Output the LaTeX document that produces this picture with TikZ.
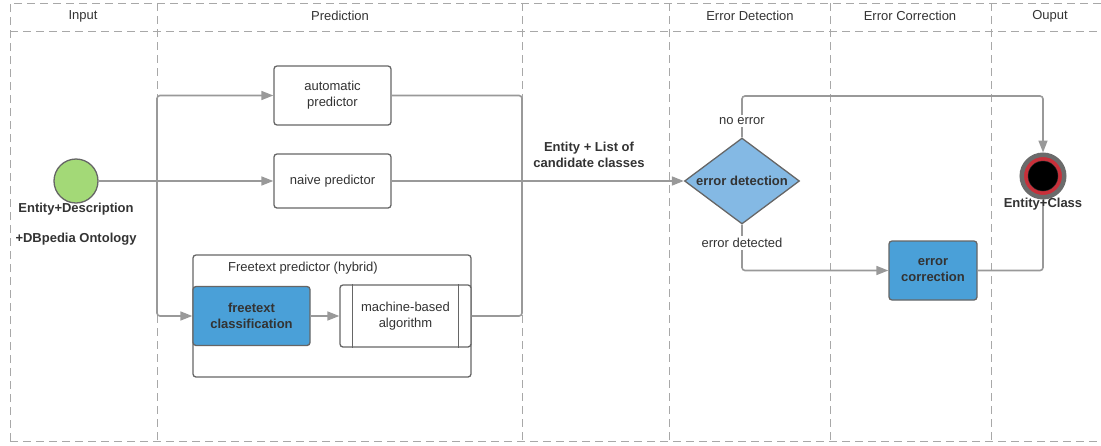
\documentclass[tikz,border=0pt]{standalone}
\usepackage{fontspec}
\setmainfont{Liberation Sans}
\usetikzlibrary{positioning}
\usetikzlibrary{shapes.geometric}
\usetikzlibrary{arrows.meta}

\definecolor{textgray}{HTML}{333333}
\definecolor{lanegray}{HTML}{A8A8A8}
\definecolor{flowgray}{HTML}{999999}
\definecolor{boxgray}{HTML}{666666}
\definecolor{ringgray}{HTML}{6B6B6B}
\definecolor{startgreen}{HTML}{A3D977}
\definecolor{taskblue}{HTML}{4AA0D8}
\definecolor{diamondblue}{HTML}{84B9E4}
\definecolor{endred}{HTML}{C8303A}

\begin{document}
\begin{tikzpicture}[x=1pt, y=-1pt,
        font=\fontsize{13}{16}\selectfont, text=textgray,
        lane/.style={draw=lanegray, line width=1pt, dash pattern=on 8pt off 5pt},
        task/.style={draw=boxgray, line width=1.3pt, rounded corners=3pt, align=center, fill=white, inner sep=2pt},
        boldtext/.style={font=\fontsize{13}{16}\selectfont\bfseries},
        flow/.style={draw=flowgray, line width=1.6pt, rounded corners=3pt},
        arrowflow/.style={flow, -{Triangle[length=12pt, width=9pt]}, color=flowgray},
        label/.style={fill=white, inner sep=2pt}]

        \useasboundingbox (0,0) rectangle (1101,445);

        % swimlanes
        \draw[lane] (10,441) -- (10,3) -- (1101,3);
        \draw[lane] (10,31) -- (1101,31);
        \draw[lane] (10,441) -- (1101,441);
        \foreach \x in {157,522,669,830,991}
            \draw[lane] (\x,3) -- (\x,441);

        \node (hinput) at (83,16) {Input};
        \node (hprediction) at (340,16) {Prediction};
        \node (hdetection) at (750,16) {Error Detection};
        \node (hcorrection) at (910,16) {Error Correction};
        \node (houtput) at (1050,16) {Ouput};

        % input
        \node[circle, draw=boxgray, line width=1.3pt, fill=startgreen, minimum size=44pt, inner sep=0pt] (start) at (76,181) {};
        \node[boldtext] (startlabel) at (76,209) {Entity+Description};
        \node[boldtext] (ontologylabel) at (76,239) {+DBpedia Ontology};

        % predictors
        \node[task, minimum width=117pt, minimum height=59pt] (automatic) at (332.5,95.5) {automatic\\predictor};
        \node[task, minimum width=117pt, minimum height=54pt] (naive) at (332.5,181) {naive predictor};
        \node[task, minimum width=278pt, minimum height=122pt] (hybrid) at (332,316) {};
        \node (hybridlabel) at (303,268) {Freetext predictor (hybrid)};
        \node[task, boldtext, fill=taskblue, minimum width=117pt, minimum height=59pt] (freetext) at (251.5,316) {freetext\\classification};
        \node[task, minimum width=131pt, minimum height=62pt] (machine) at (405.5,316) {machine-based\\algorithm};
        \draw[boxgray, line width=1.3pt] ([xshift=13pt]machine.north west) -- ([xshift=13pt]machine.south west);
        \draw[boxgray, line width=1.3pt] ([xshift=-13pt]machine.north east) -- ([xshift=-13pt]machine.south east);

        \coordinate (fork) at (157,181);
        \coordinate (merge) at (522,181);

        \draw[flow] (start) -- (fork);
        \draw[arrowflow] (fork) |- (automatic.west);
        \draw[arrowflow] (fork) -- (naive.west);
        \draw[arrowflow] (fork) |- (freetext.west);
        \draw[arrowflow] (freetext) -- (machine);
        \draw[flow] (automatic.east) -| (merge);
        \draw[flow] (machine.east) -| (merge);

        \node[boldtext, align=center] (candidates) at (589,155) {Entity + List of\\candidate classes};

        % error detection
        \node[diamond, draw=boxgray, line width=1.3pt, fill=diamondblue, boldtext, aspect=1.34,
              minimum width=115pt, minimum height=86pt, inner sep=1pt] (detect) at (742,181) {error detection};
        \draw[arrowflow] (naive.east) -- (detect.west);

        % error correction
        \node[task, boldtext, fill=taskblue, minimum width=88pt, minimum height=59pt] (correct) at (933,270.5) {error\\correction};

        % output
        \node[circle, draw=ringgray, line width=4.5pt, fill=endred, minimum size=42.5pt, inner sep=0pt] (finish) at (1043,176) {};
        \fill[black, draw=textgray] (finish.center) circle (15);

        \coordinate (topturn) at (742,96);
        \draw[arrowflow] (detect.north) -- (topturn) -| (finish.north);
        \draw[arrowflow] (detect.south) |- (correct.west);
        \draw[flow] (correct.east) -| (finish.south);

        \node[label] (noerror) at (742,121) {no error};
        \node[label] (errordetected) at (742,243) {error detected};
        \node[boldtext] (finishlabel) at (1043,204) {Entity+Class};

\end{tikzpicture}
\end{document}
